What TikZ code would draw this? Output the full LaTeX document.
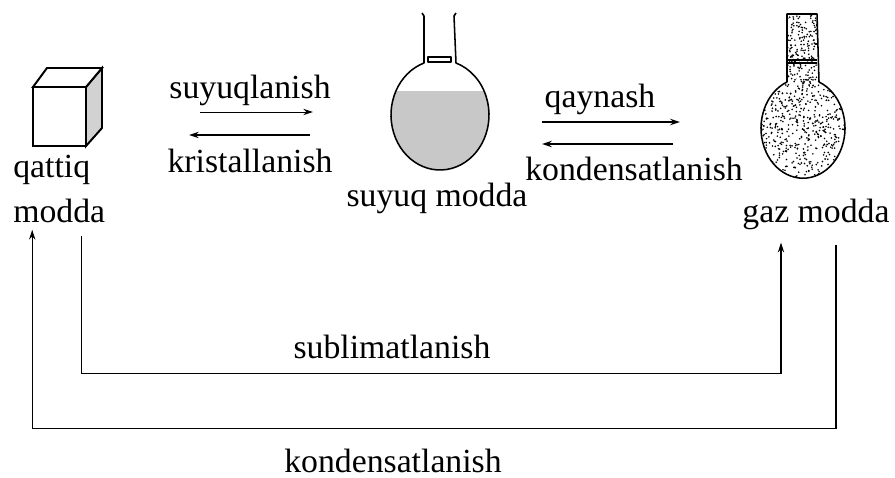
\documentclass[tikz,border=0pt]{standalone}
\usepackage{fontspec}
\setmainfont{Liberation Serif}
\usetikzlibrary{arrows.meta,calc}

\definecolor{liqgray}{HTML}{C8C8C8}
\definecolor{sidegray}{HTML}{D2D2D2}

\begin{document}
\begin{tikzpicture}[x=0.025cm,y=-0.025cm,
  lbl/.style={font=\fontsize{24}{31.7}\selectfont,inner sep=0pt},
  tip/.style={-{Stealth[length=7pt,width=4.5pt]}},
  glass/.style={line width=1.1pt,line join=round}]
\useasboundingbox (0,0) rectangle (895,478);

% qattiq: kub
\draw[line width=1.4pt,fill=sidegray] (86,87) -- (102,68) -- (102,128) -- (86,146) -- cycle;
\draw[line width=1.4pt,fill=white] (33,87) -- (47,68) -- (102,68) -- (86,87) -- cycle;
\draw[line width=1.4pt,fill=white] (33,87) rectangle (86,146);

% suyuq: kolba
\begin{scope}
\clip (440,115) ellipse [x radius=49,y radius=55];
\fill[liqgray] (380,91) rectangle (500,180);
\end{scope}
\draw[glass] (422,13) -- (424,16) -- (424,63)
  arc [start angle=250.94,end angle=-70.94,x radius=49,y radius=55]
  -- (454,16) -- (456,13);
\draw[glass] (428,57) rectangle (451,62);

% gaz: kolba
\pgfmathsetseed{11}
\begin{scope}
\clip (803,128) ellipse [x radius=42,y radius=50];
\foreach \i in {1,...,560}
  \fill ({761+84*rnd},{78+100*rnd}) circle [radius=0.9];
\end{scope}
\begin{scope}
\clip (787,14) rectangle (817,84);
\foreach \i in {1,...,190}
  \fill ({787+30*rnd},{14+70*rnd}) circle [radius=0.9];
\end{scope}
\draw[glass] (787,14) -- (787,82)
  arc [start angle=247.6,end angle=-67.6,x radius=42,y radius=50]
  -- (817,14) -- cycle;
\draw[glass] (787,60) -- (817,60) (787,63) -- (817,63);

% holatlar
\node[lbl,align=left,anchor=north west] (solid) at (13,155) {qattiq\\modda};
\node[lbl,anchor=base] (liquid) at (437,207) {suyuq modda};
\node[lbl,anchor=base] (gas) at (816,223) {gaz modda};

% jarayonlar
\node[lbl,anchor=base] (melt) at (250,99) {suyuqlanish};
\node[lbl,anchor=base] (cryst) at (250,173) {kristallanish};
\node[lbl,anchor=base] (boil) at (600,108) {qaynash};
\node[lbl,anchor=base] (cond) at (634,181) {kondensatlanish};
\node[lbl,anchor=base] (subl) at (392,359) {sublimatlanish};
\node[lbl,anchor=base] (desub) at (393,472) {kondensatlanish};

\draw[tip,line width=0.7pt] (200,112) -- (313,112);
\draw[tip,line width=1pt] (310,135) -- (189,135);
\draw[tip,line width=1.4pt] (542,122) -- (680,122);
\draw[tip,line width=1.1pt] (673,144) -- (542,144);

\draw[tip,line width=0.8pt] ($(solid.south)+(22,13)$) -- ++(0,138)
  -| ($(gas.south)+(-35,12)$);
\draw[tip,line width=0.8pt] ($(gas.south)+(20,14)$) -- ++(0,184)
  -| ($(solid.south)+(-27,7)$);
\end{tikzpicture}
\end{document}
